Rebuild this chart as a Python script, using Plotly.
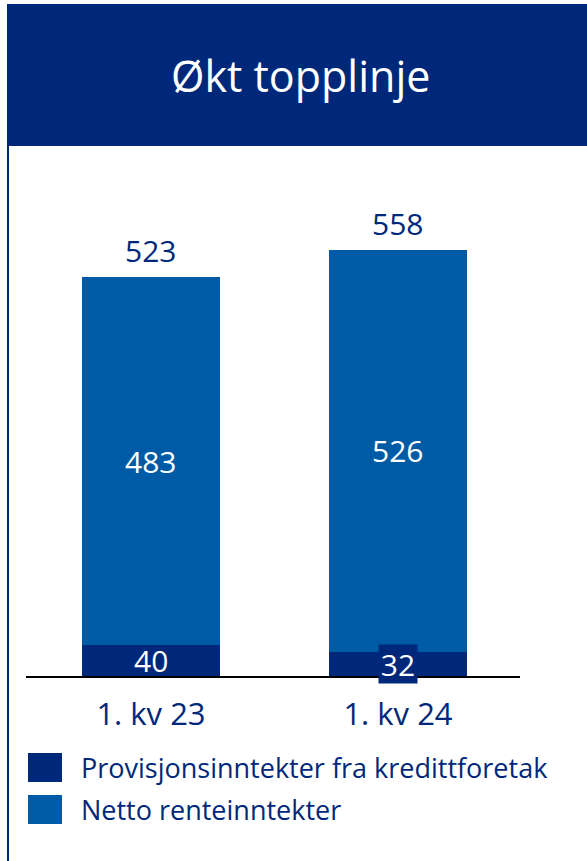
import plotly.graph_objects as go

# Quarterly top-line, NOK million
quarters = ["1. kv 23", "1. kv 24"]
provisjon = [40, 32]
netto_rente = [483, 526]
series_names = ["Provisjonsinntekter fra kredittforetak", "Netto renteinntekter"]
title_text = "Økt topplinje"

NAVY = "#00287A"
BLUE = "#005BA6"
FONT = "Open Sans"

W, H = 587, 861
x_pos = list(range(len(quarters)))
totals = [a + b for a, b in zip(provisjon, netto_rente)]


def py(px):
    """Pixel row -> paper y."""
    return 1 - px / H


def px_x(px):
    return px / W


fig = go.Figure()
fig.add_trace(go.Bar(x=x_pos, y=provisjon, name=series_names[0], marker_color=NAVY,
                     marker_line_width=0, width=0.555, showlegend=False, hoverinfo="skip"))
fig.add_trace(go.Bar(x=x_pos, y=netto_rente, name=series_names[1], marker_color=BLUE,
                     marker_line_width=0, width=0.555, showlegend=False, hoverinfo="skip"))

annotations = []
# totals above the bars
for x, t in zip(x_pos, totals):
    annotations.append(dict(x=x, y=t, xref="x", yref="y", text=str(t), showarrow=False,
                            yanchor="bottom", yshift=4,
                            font=dict(family=FONT, size=30, color=NAVY)))
# net interest income, centred in its segment
for x, p, n in zip(x_pos, provisjon, netto_rente):
    annotations.append(dict(x=x, y=p + n / 2, xref="x", yref="y", text=str(n), showarrow=False,
                            font=dict(family=FONT, size=30, color="white")))
# commission income, centred in the thin segment; boxed when it overflows
for x, p in zip(x_pos, provisjon):
    boxed = p < 35
    ann = dict(x=x, y=p / 2, xref="x", yref="y", text=str(p), showarrow=False,
               bgcolor=NAVY if boxed else "rgba(0,0,0,0)", borderpad=0,
               yanchor="middle",
               font=dict(family=FONT, size=30, color="white"))
    if boxed:
        ann.update(width=38, height=38)
    annotations.append(ann)

# header title
annotations.append(dict(x=px_x(300), y=py(76), xref="paper", yref="paper", text=title_text,
                        showarrow=False, xanchor="center", yanchor="middle",
                        font=dict(family=FONT, size=43, color="white")))

shapes = [
    # header band
    dict(type="rect", xref="paper", yref="paper", x0=px_x(7), x1=1, y0=py(146), y1=py(4),
         fillcolor=NAVY, line_width=0, layer="below"),
    # left rule of the panel
    dict(type="line", xref="paper", yref="paper", x0=px_x(8), x1=px_x(8), y0=0, y1=py(146),
         line=dict(color=NAVY, width=2)),
]

# legend drawn as swatches and labels
legend_rows = [767, 809]
for name, color, row in zip(series_names, [NAVY, BLUE], legend_rows):
    shapes.append(dict(type="rect", xref="paper", yref="paper", x0=px_x(28), x1=px_x(62),
                       y0=py(row + 15), y1=py(row - 14), fillcolor=color, line_width=0))
    annotations.append(dict(x=px_x(79), y=py(row), xref="paper", yref="paper", text=name,
                            showarrow=False, xanchor="left", yanchor="middle",
                            font=dict(family=FONT, size=27, color=NAVY)))

fig.update_layout(
    width=W, height=H,
    margin=dict(l=0, r=0, t=0, b=0),
    paper_bgcolor="white", plot_bgcolor="white",
    barmode="stack", bargap=0,
    annotations=annotations, shapes=shapes,
    xaxis=dict(domain=[px_x(26), px_x(520)], range=[-0.506, 1.494],
               tickvals=x_pos, ticktext=quarters, ticks="", showgrid=False, zeroline=False,
               showline=True, linecolor="black", linewidth=2, ticklabelstandoff=10,
               tickfont=dict(family=FONT, size=31, color=NAVY), fixedrange=True),
    yaxis=dict(domain=[py(676), py(150)], range=[0, 689], visible=False, fixedrange=True),
)

fig.write_html("out.html", config={"displayModeBar": False})
